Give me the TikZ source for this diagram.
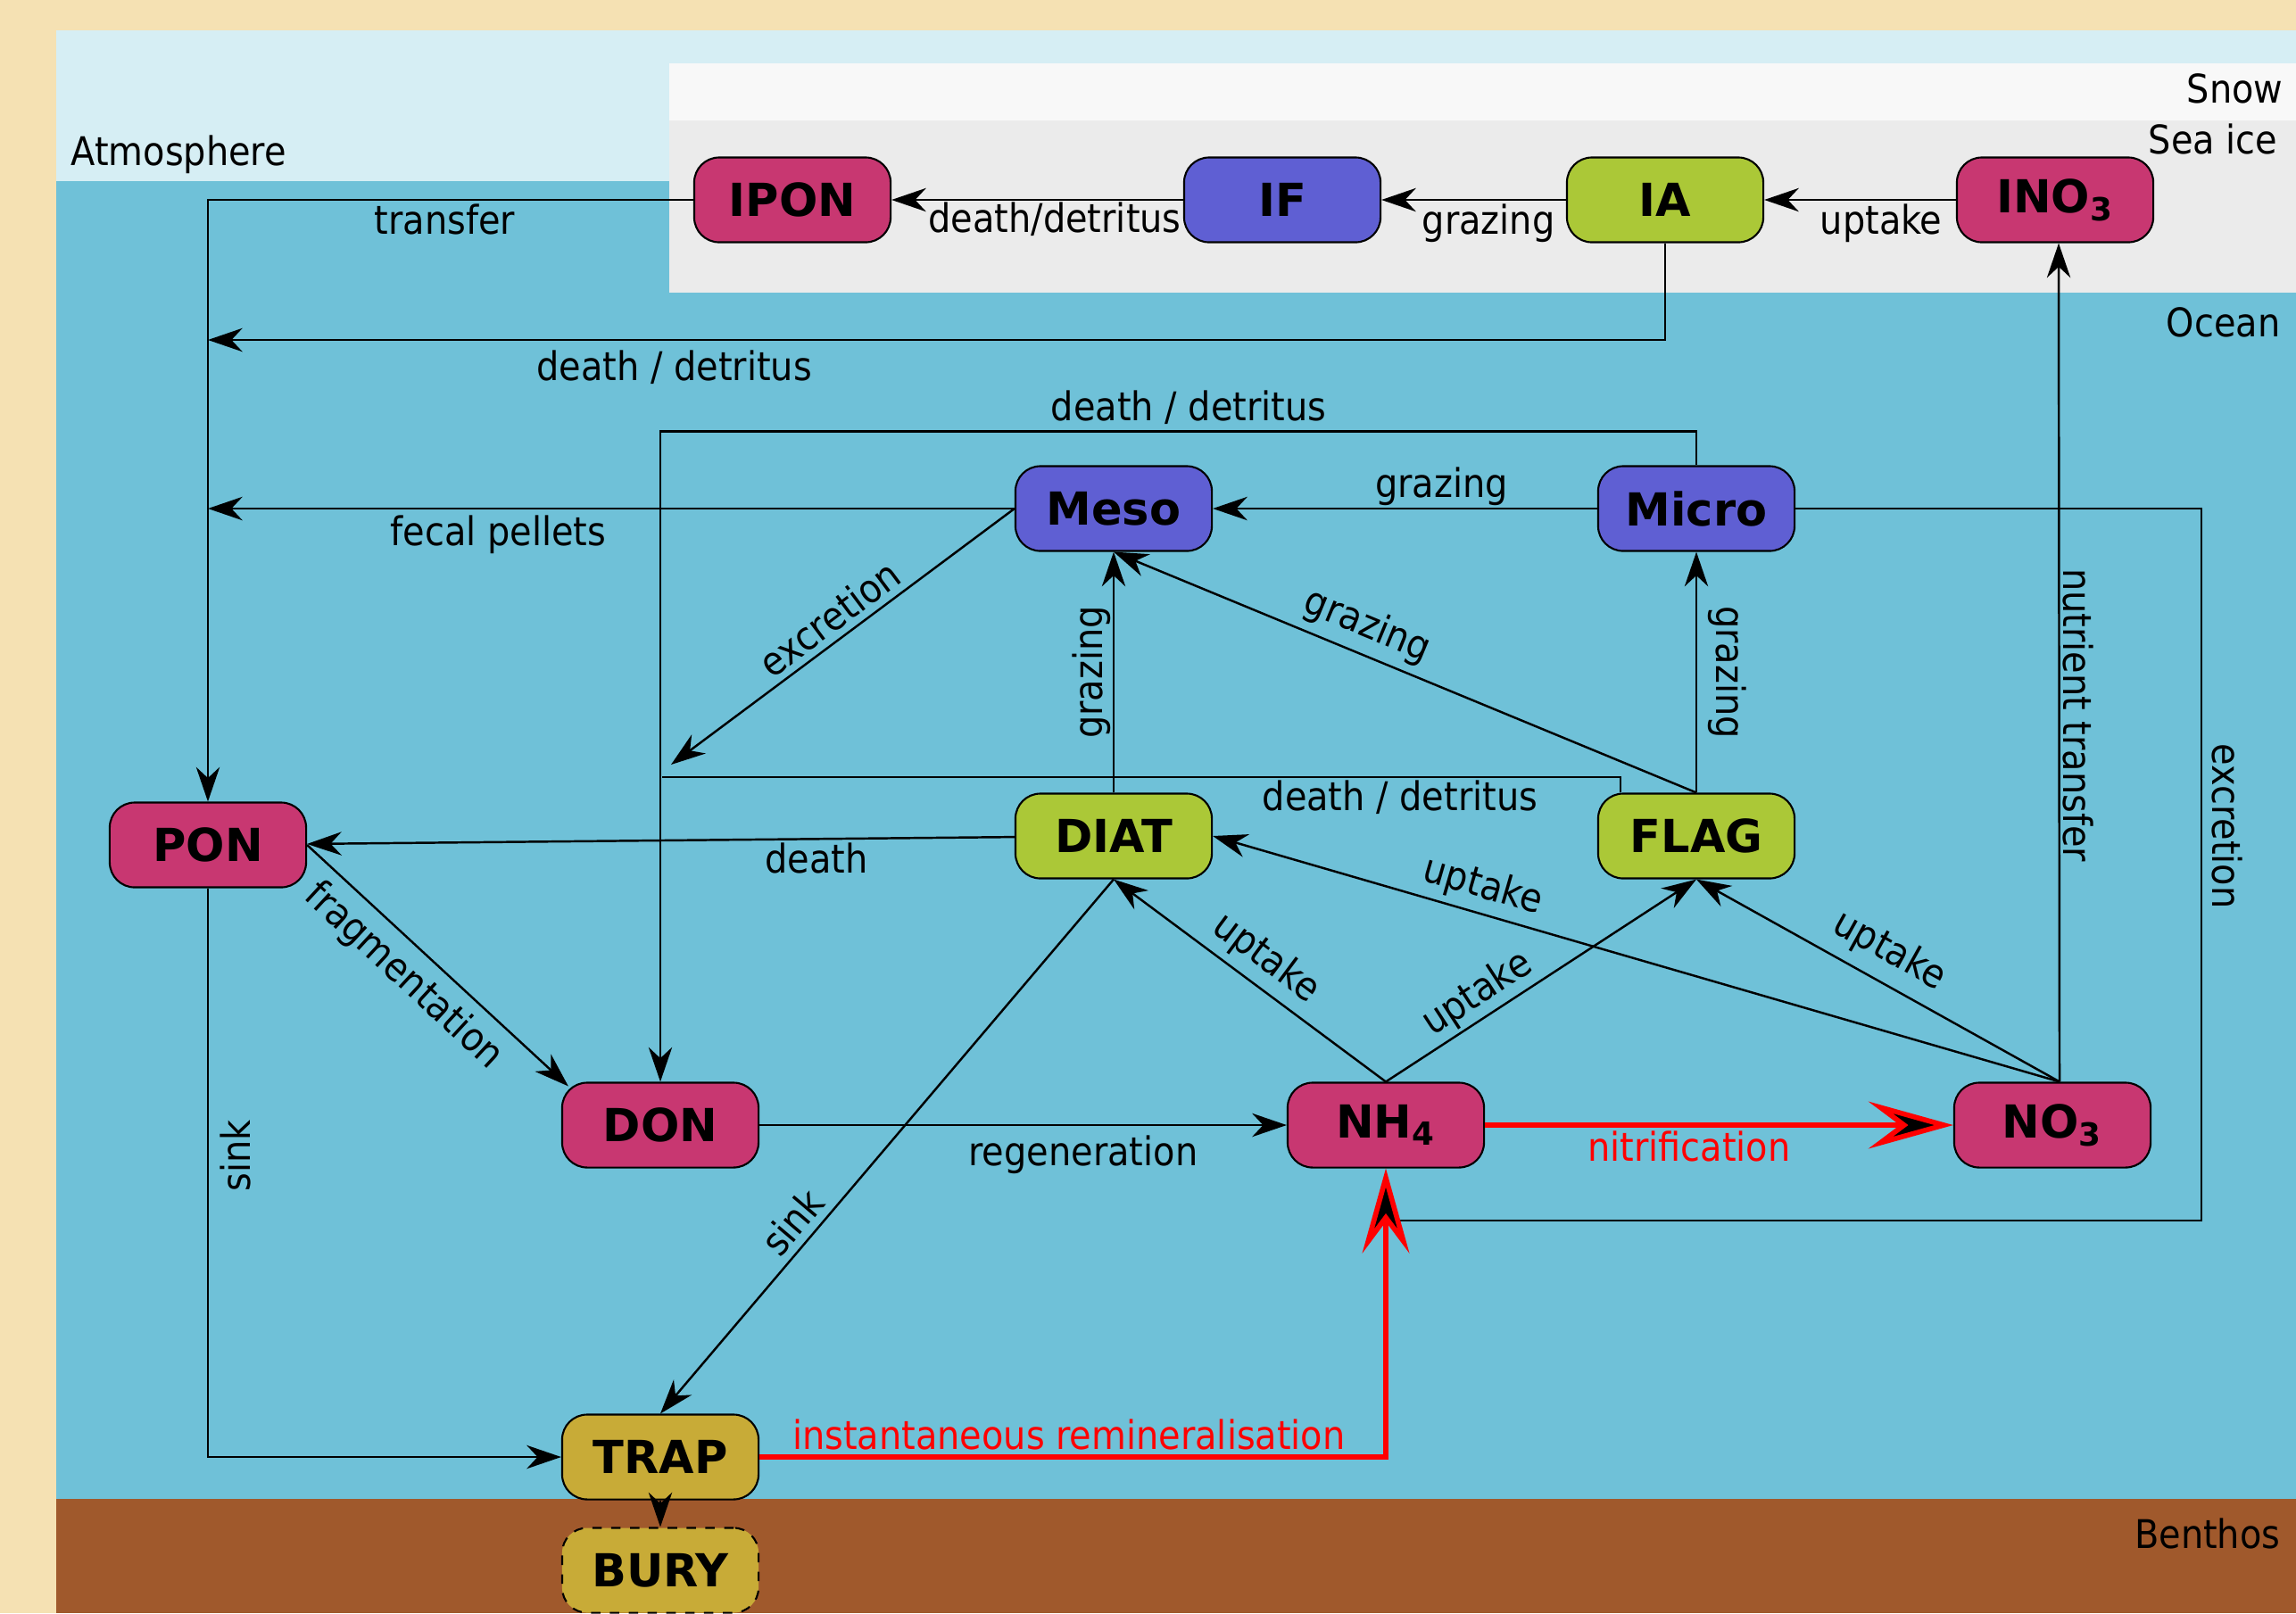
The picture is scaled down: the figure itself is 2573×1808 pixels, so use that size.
\documentclass[tikz,border=0pt]{standalone}
\usepackage{fontspec}
\setmainfont{DejaVu Sans Condensed}
\newfontfamily\boxfont{DejaVu Sans}
\usepackage{tikz}
\usetikzlibrary{arrows.meta, calc}
\definecolor{sandcolor}{HTML}{F5E1B3}
\definecolor{aircolor}{HTML}{D6EEF4}
\definecolor{oceancolor}{HTML}{6FC1D8}
\definecolor{benthoscolor}{HTML}{A0592C}
\definecolor{snowcolor}{HTML}{F8F8F8}
\definecolor{icecolor}{HTML}{EBEBEB}
\definecolor{nitrocolor}{HTML}{C83771}
\definecolor{zoocolor}{HTML}{5F5FD3}
\definecolor{phytocolor}{HTML}{ABC837}
\definecolor{trapcolor}{HTML}{C8AB37}

\begin{document}
\begin{tikzpicture}[x=0.01cm, y=-0.01cm, font=\fontsize{12.6}{15}\selectfont,
    box/.style={rectangle, rounded corners=0.28cm, draw=black, line width=0.6pt, minimum width=2.2cm, minimum height=0.95cm, font=\boxfont\fontsize{14.5}{17}\selectfont\bfseries},
    arrow/.style={-{Stealth[length=11pt, width=7.5pt, inset=3.5pt]}, line width=0.7pt},
    redarrow/.style={-{Stealth[length=27pt, width=15pt, inset=10pt, fill=black]}, draw=red, line width=1.6pt},
    zone/.style={inner sep=0pt},
    lbl/.style={inner sep=1pt}
]
\useasboundingbox (0,0) rectangle (2573,1808);

% Layers
\fill[sandcolor] (0,0) rectangle (2573,1808);
\fill[aircolor] (63,34) rectangle (2573,203);
\fill[oceancolor] (63,203) rectangle (2573,1680);
\fill[benthoscolor] (63,1680) rectangle (2573,1808);
\fill[snowcolor] (750,71) rectangle (2573,135);
\fill[icecolor] (750,135) rectangle (2573,328);

\node[zone, anchor=base west] (atm) at (79,185) {Atmosphere};
\node[zone, anchor=base east] (snow) at (2559,115) {Snow};
\node[zone, anchor=base east] (seaice) at (2553,172) {Sea ice};
\node[zone, anchor=base east] (ocean) at (2556,377) {Ocean};
\node[zone, anchor=base east] (benthos) at (2556,1735) {Benthos};

% Sea ice compartments
\node[box, fill=nitrocolor] (IPON) at (888,224) {IPON};
\node[box, fill=zoocolor] (IF) at (1437,224) {IF};
\node[box, fill=phytocolor] (IA) at (1866,224) {IA};
\node[box, fill=nitrocolor] (INO3) at (2303,224) {INO\textsubscript{3}};

% Ocean compartments
\node[box, fill=zoocolor] (Meso) at (1248,570) {Meso};
\node[box, fill=zoocolor] (Micro) at (1901,570) {Micro};
\node[box, fill=phytocolor] (DIAT) at (1248,937) {DIAT};
\node[box, fill=phytocolor] (FLAG) at (1901,937) {FLAG};
\node[box, fill=nitrocolor] (PON) at (233,947) {PON};
\node[box, fill=nitrocolor] (DON) at (740,1261) {DON};
\node[box, fill=nitrocolor] (NH4) at (1553,1261) {NH\textsubscript{4}};
\node[box, fill=nitrocolor] (NO3) at (2300,1261) {NO\textsubscript{3}};

% Sediment
\node[box, fill=trapcolor] (TRAP) at (740,1633) {TRAP};
\node[box, fill=trapcolor, dashed] (BURY) at (740,1760) {BURY};

\coordinate (iajoin) at (233,381);
\coordinate (mesoexc) at (752,857);
\coordinate (flagjoin) at (742,871);
\coordinate (excend) at (1553,1368);

% Sea ice fluxes
\draw[arrow] (INO3) -- (IA) node[pos=0.39, below, lbl] {uptake};
\draw[arrow] (IA) -- (IF) node[pos=0.42, below, lbl] {grazing};
\draw[arrow] (IF) -- (IPON) node[pos=0.44, below, lbl, inner sep=0.5pt] {death/detritus};
\draw[arrow] (IPON.west) -| (PON.north) node[pos=0.256, below, lbl] {transfer};
\draw[arrow] (IA.south) |- (iajoin) node[pos=0.84, below, lbl, inner sep=3pt] {death / detritus};
\draw[arrow] ([xshift=0.08cm]NO3.north) -- ([xshift=0.04cm]INO3.south) node[pos=0.437, above, rotate=-90, lbl] {nutrient transfer};

% Zooplankton
\draw[arrow] (Micro) -- (Meso) node[pos=0.405, above, lbl, inner sep=0.5pt] {grazing};
\draw[arrow] (Meso.west) -- (Meso.west -| PON.north) node[pos=0.64, below, lbl, inner sep=2pt] {fecal pellets};
\draw[arrow] (Meso.west) -- (mesoexc) node[pos=0.5, sloped, above, lbl, inner sep=2pt] {excretion};
\draw[arrow] (Micro.north) -- ++(0,-38) -| (DON.north) node[pos=0.245, above, lbl, inner sep=2pt] {death / detritus};
\draw (Micro.east) -- ++(455,0) |- (excend) node[pos=0.223, above, rotate=-90, lbl, inner sep=3pt] {excretion};

% Phytoplankton
\draw[arrow] (DIAT) -- (Meso) node[midway, sloped, above, lbl, inner sep=0.5pt] {grazing};
\draw[arrow] (FLAG) -- (Micro) node[midway, above, rotate=-90, lbl, inner sep=3.5pt] {grazing};
\draw[arrow] (FLAG.north) -- (Meso.south) node[pos=0.583, sloped, above, lbl, inner sep=2.5pt] {grazing};
\draw ([xshift=-0.85cm]FLAG.north) |- (flagjoin) node[pos=0.615, below, lbl] {death / detritus};
\draw[arrow] (DIAT) -- (PON) node[pos=0.28, below, lbl] {death};
\draw[arrow] (DIAT.south) -- (TRAP.north) node[pos=0.67, sloped, above, lbl, inner sep=2.3pt] {sink};

% Nutrients
\draw[arrow] (NH4.north) -- (DIAT.south) node[pos=0.5, sloped, above, lbl, inner sep=2.3pt] {uptake};
\draw[arrow] (NH4.north) -- (FLAG.south) node[pos=0.336, sloped, above, lbl] {uptake};
\draw[arrow] ([xshift=0.08cm]NO3.north) -- (DIAT.east) node[pos=0.69, sloped, above, lbl, inner sep=2pt] {uptake};
\draw[arrow] ([xshift=0.08cm]NO3.north) -- (FLAG.south) node[pos=0.51, sloped, above, lbl, inner sep=3.5pt] {uptake};

% Detritus
\draw[arrow] (PON.east) -- ([shift={(8,5)}]DON.north west) node[pos=0.45, sloped, below, lbl, inner sep=3.5pt] {fragmentation};
\draw[arrow] (PON.south) |- (TRAP.west) node[pos=0.235, below, rotate=90, lbl, inner sep=3.5pt] {sink};
\draw[arrow] (DON) -- (NH4) node[pos=0.614, below, lbl, inner sep=3pt] {regeneration};
\draw[arrow] (TRAP) -- (BURY);

% Remineralisation
\draw[redarrow] (NH4) -- (NO3) node[pos=0.436, below, lbl, text=red] {nitrification};
\draw[redarrow] (TRAP.east) -| (NH4.south) node[pos=0.247, above, lbl, inner sep=1.5pt, text=red] {instantaneous remineralisation};

\end{tikzpicture}
\end{document}
